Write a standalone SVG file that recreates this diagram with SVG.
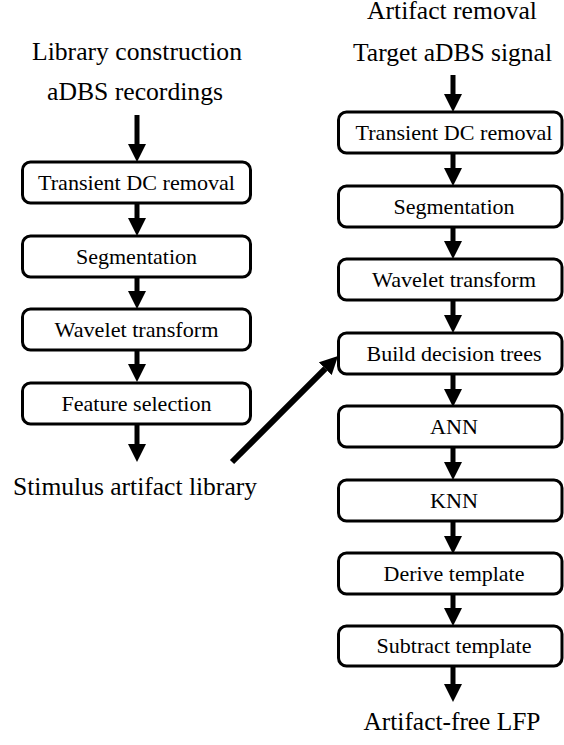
<svg xmlns="http://www.w3.org/2000/svg" width="564" height="745" viewBox="0 0 564 745">
<style>
.t{font-family:"Liberation Serif","Times New Roman",serif;font-size:25px;text-anchor:middle;fill:#000}
.b{font-family:"Liberation Serif","Times New Roman",serif;font-size:22px;text-anchor:middle;fill:#000}
.box{fill:#fff;stroke:#000;stroke-width:3}
.c{stroke:#000;stroke-width:5}
</style>
<defs>
<marker id="ah" viewBox="0 0 18 18" markerWidth="18" markerHeight="18" refX="0" refY="9" orient="auto" markerUnits="userSpaceOnUse">
<path d="M0,0 L18,9 L0,18 Z" fill="#000"/>
</marker>
</defs>
<g id="titles">
<text class="t" x="137" y="60" textLength="210" lengthAdjust="spacingAndGlyphs">Library construction</text>
<text class="t" x="135" y="100" textLength="176" lengthAdjust="spacingAndGlyphs">aDBS recordings</text>
<text class="t" x="452" y="19" textLength="170" lengthAdjust="spacingAndGlyphs">Artifact removal</text>
<text class="t" x="452.5" y="61" textLength="199" lengthAdjust="spacingAndGlyphs">Target aDBS signal</text>
<text class="t" x="135" y="495" textLength="244" lengthAdjust="spacingAndGlyphs">Stimulus artifact library</text>
<text class="t" x="452" y="730" textLength="177" lengthAdjust="spacingAndGlyphs">Artifact-free LFP</text>
</g>
<g id="connectors">
<line class="c" x1="137" y1="115" x2="137" y2="144" marker-end="url(#ah)"/>
<line class="c" x1="137" y1="203" x2="137" y2="218" marker-end="url(#ah)"/>
<line class="c" x1="137" y1="277" x2="137" y2="291" marker-end="url(#ah)"/>
<line class="c" x1="137" y1="350" x2="137" y2="364" marker-end="url(#ah)"/>
<line class="c" x1="137" y1="424" x2="137" y2="444" marker-end="url(#ah)"/>
<line class="c" x1="232" y1="462" x2="325.3" y2="368.7" marker-end="url(#ah)" style="stroke-width:6"/>
<line class="c" x1="453" y1="75" x2="453" y2="94" marker-end="url(#ah)"/>
<line class="c" x1="453" y1="153" x2="453" y2="168" marker-end="url(#ah)"/>
<line class="c" x1="453" y1="227" x2="453" y2="241" marker-end="url(#ah)"/>
<line class="c" x1="453" y1="300" x2="453" y2="315" marker-end="url(#ah)"/>
<line class="c" x1="453" y1="374" x2="453" y2="389" marker-end="url(#ah)"/>
<line class="c" x1="453" y1="447" x2="453" y2="462" marker-end="url(#ah)"/>
<line class="c" x1="453" y1="521" x2="453" y2="536" marker-end="url(#ah)"/>
<line class="c" x1="453" y1="594" x2="453" y2="608" marker-end="url(#ah)"/>
<line class="c" x1="453" y1="666" x2="453" y2="684" marker-end="url(#ah)"/>
</g>
<g id="L1"><rect class="box" x="22.5" y="162" width="228" height="41" rx="8"/><text class="b" x="136.5" y="190" textLength="197" lengthAdjust="spacingAndGlyphs">Transient DC removal</text></g>
<g id="L2"><rect class="box" x="22.5" y="236" width="228" height="41" rx="8"/><text class="b" x="136.5" y="264" textLength="121" lengthAdjust="spacingAndGlyphs">Segmentation</text></g>
<g id="L3"><rect class="box" x="22.5" y="309" width="228" height="41" rx="8"/><text class="b" x="136.5" y="337" textLength="164" lengthAdjust="spacingAndGlyphs">Wavelet transform</text></g>
<g id="L4"><rect class="box" x="22.5" y="383" width="228" height="41" rx="8"/><text class="b" x="136.5" y="411" textLength="150" lengthAdjust="spacingAndGlyphs">Feature selection</text></g>
<g id="R1"><rect class="box" x="338.5" y="112" width="223.5" height="41" rx="8"/><text class="b" x="454" y="140" textLength="197" lengthAdjust="spacingAndGlyphs">Transient DC removal</text></g>
<g id="R2"><rect class="box" x="338.5" y="186" width="223.5" height="41" rx="8"/><text class="b" x="454" y="214" textLength="121" lengthAdjust="spacingAndGlyphs">Segmentation</text></g>
<g id="R3"><rect class="box" x="338.5" y="259" width="223.5" height="41" rx="8"/><text class="b" x="454" y="287" textLength="164" lengthAdjust="spacingAndGlyphs">Wavelet transform</text></g>
<g id="R4"><rect class="box" x="338.5" y="333" width="223.5" height="41" rx="8"/><text class="b" x="454" y="361" textLength="175" lengthAdjust="spacingAndGlyphs">Build decision trees</text></g>
<g id="R5"><rect class="box" x="338.5" y="406" width="223.5" height="41" rx="8"/><text class="b" x="454" y="434" textLength="48" lengthAdjust="spacingAndGlyphs">ANN</text></g>
<g id="R6"><rect class="box" x="338.5" y="480" width="223.5" height="41" rx="8"/><text class="b" x="454" y="508" textLength="48" lengthAdjust="spacingAndGlyphs">KNN</text></g>
<g id="R7"><rect class="box" x="338.5" y="553" width="223.5" height="41" rx="8"/><text class="b" x="454" y="581" textLength="141" lengthAdjust="spacingAndGlyphs">Derive template</text></g>
<g id="R8"><rect class="box" x="338.5" y="626" width="223.5" height="40" rx="8"/><text class="b" x="454" y="653" textLength="155" lengthAdjust="spacingAndGlyphs">Subtract template</text></g>
</svg>
